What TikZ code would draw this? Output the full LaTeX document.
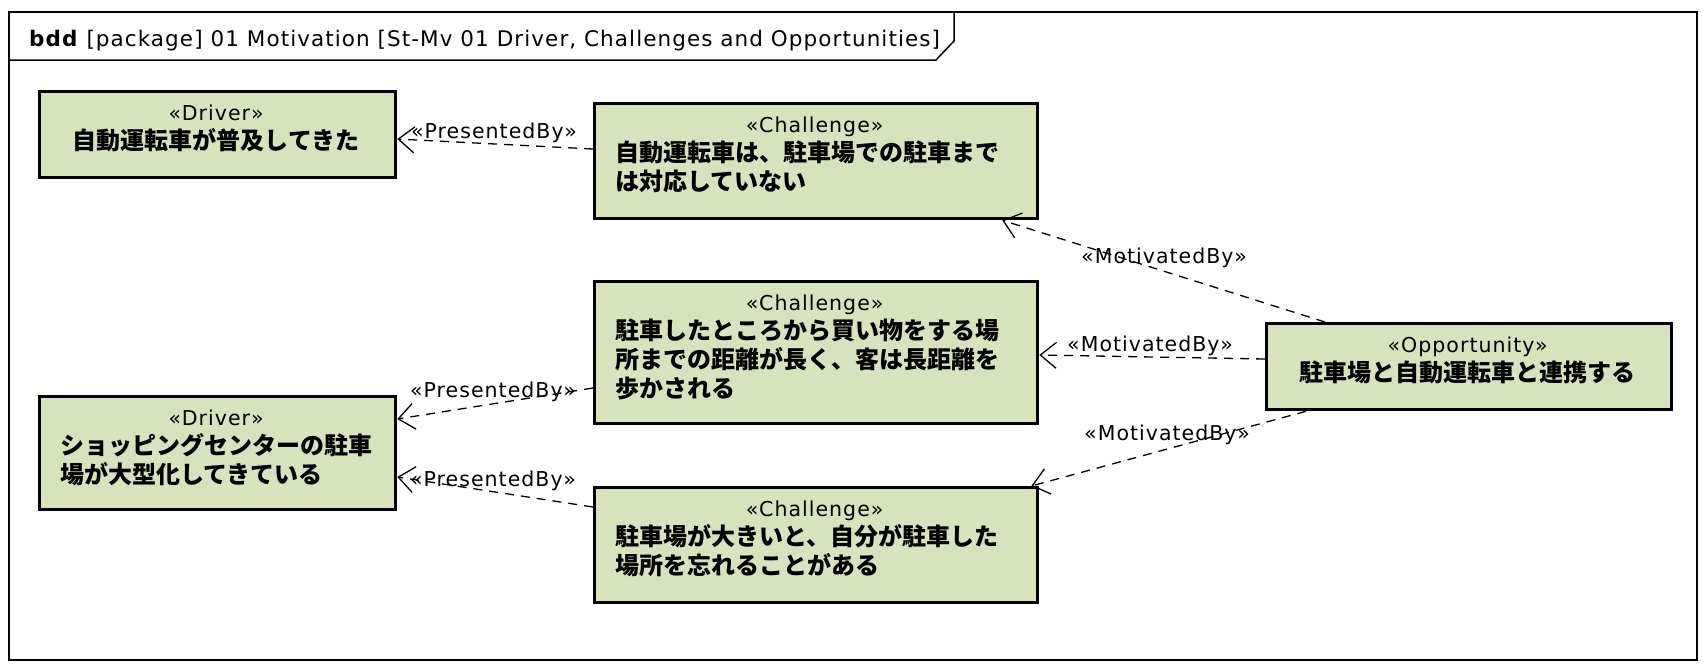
\documentclass[tikz,border=0pt]{standalone}
\usepackage{fontspec}
\setmainfont{DejaVu Sans}[LetterSpace=5]
\newfontfamily\jpfam{Noto Sans CJK JP}
\usetikzlibrary{arrows.meta,calc}
\definecolor{boxfill}{HTML}{D7E3BC}
\newcommand\jpt{\jpfam\bfseries\fontsize{24}{29}\selectfont}
\tikzset{
  blk/.style={draw=black, line width=3.3pt, fill=boxfill, anchor=north west, inner sep=0pt},
  btxt/.style={anchor=base west, inner sep=0pt, align=left, font=\fontsize{20.5}{29}\selectfont},
  lbl/.style={inner sep=0pt, font=\fontsize{20.5}{24}\selectfont},
  dep/.style={draw=black, line width=1.3pt, dash pattern=on 9pt off 7pt,
     -{Straight Barb[length=16pt,width=26pt,line width=1.3pt]}},
}
\begin{document}
\begin{tikzpicture}[x=1pt,y=-1pt]
\useasboundingbox[fill=white] (0,0) rectangle (1706,670);
% frame
\draw[line width=1.5pt] (9,12) rectangle (1697,660);
\draw[line width=1.5pt] (9,60) -- (936,60) -- (954,41) -- (954,12);
\node[anchor=base west, inner sep=0pt, font=\fontsize{21.5}{26}\selectfont] (title) at (29,46)
  {\textbf{bdd} [package] 01 Motivation [St-Mv 01 Driver, Challenges and Opportunities]};
% blocks
\node[blk, minimum width=356pt, minimum height=86pt] (d1) at (38,90) {};
\node[blk, minimum width=443pt, minimum height=115pt] (c1) at (593,102) {};
\node[blk, minimum width=443pt, minimum height=142pt] (c2) at (593,280) {};
\node[blk, minimum width=356pt, minimum height=113pt] (d2) at (38,395) {};
\node[blk, minimum width=443pt, minimum height=115pt] (c3) at (593,486) {};
\node[blk, minimum width=405pt, minimum height=86pt] (o) at (1265,322) {};
% block texts
\node[btxt, text width=312pt] (d1t) at ($(d1.north west)+(22,30.5)$)
  {\makebox[\linewidth]{«Driver»}\\{\jpt\makebox[\linewidth]{自動運転車が普及してきた}}};
\node[btxt, text width=399pt] (c1t) at ($(c1.north west)+(22,30.5)$)
  {\makebox[\linewidth]{«Challenge»}\\{\jpt 自動運転車は、駐車場での駐車まで\\は対応していない}};
\node[btxt, text width=399pt] (c2t) at ($(c2.north west)+(22,30.5)$)
  {\makebox[\linewidth]{«Challenge»}\\{\jpt 駐車したところから買い物をする場\\所までの距離が長く、客は長距離を\\歩かされる}};
\node[btxt, text width=312pt] (d2t) at ($(d2.north west)+(22,30.5)$)
  {\makebox[\linewidth]{«Driver»}\\{\jpt ショッピングセンターの駐車\\場が大型化してきている}};
\node[btxt, text width=399pt] (c3t) at ($(c3.north west)+(22,30.5)$)
  {\makebox[\linewidth]{«Challenge»}\\{\jpt 駐車場が大きいと、自分が駐車した\\場所を忘れることがある}};
\node[btxt, text width=361pt] (ot) at ($(o.north west)+(22,30.5)$)
  {\makebox[\linewidth]{«Opportunity»}\\{\jpt\makebox[\linewidth]{駐車場と自動運転車と連携する}}};
% connectors
\draw[dep] ($(c1.north west)+(0,47)$) -- ($(d1.north east)+(0,49)$);
\draw[dep] ($(c2.north west)+(0,108)$) -- ($(d2.north east)+(0,24)$);
\draw[dep] ($(c3.north west)+(0,21)$) -- ($(d2.north east)+(0,82)$);
\draw[dep] ($(o.north west)+(60,0)$) -- ($(c1.south east)+(-37,0)$);
\draw[dep] ($(o.north west)+(0,37)$) -- ($(c2.north east)+(0,75)$);
\draw[dep] ($(o.south west)+(41,0)$) -- ($(c3.north east)+(-8,0)$);
% labels
\node[lbl] (l1) at (494,133) {«PresentedBy»};
\node[lbl] (l2) at (493,392) {«PresentedBy»};
\node[lbl] (l3) at (493,481) {«PresentedBy»};
\node[lbl] (l4) at (1164,258) {«MotivatedBy»};
\node[lbl] (l5) at (1150,346) {«MotivatedBy»};
\node[lbl] (l6) at (1167,435) {«MotivatedBy»};
\end{tikzpicture}
\end{document}
